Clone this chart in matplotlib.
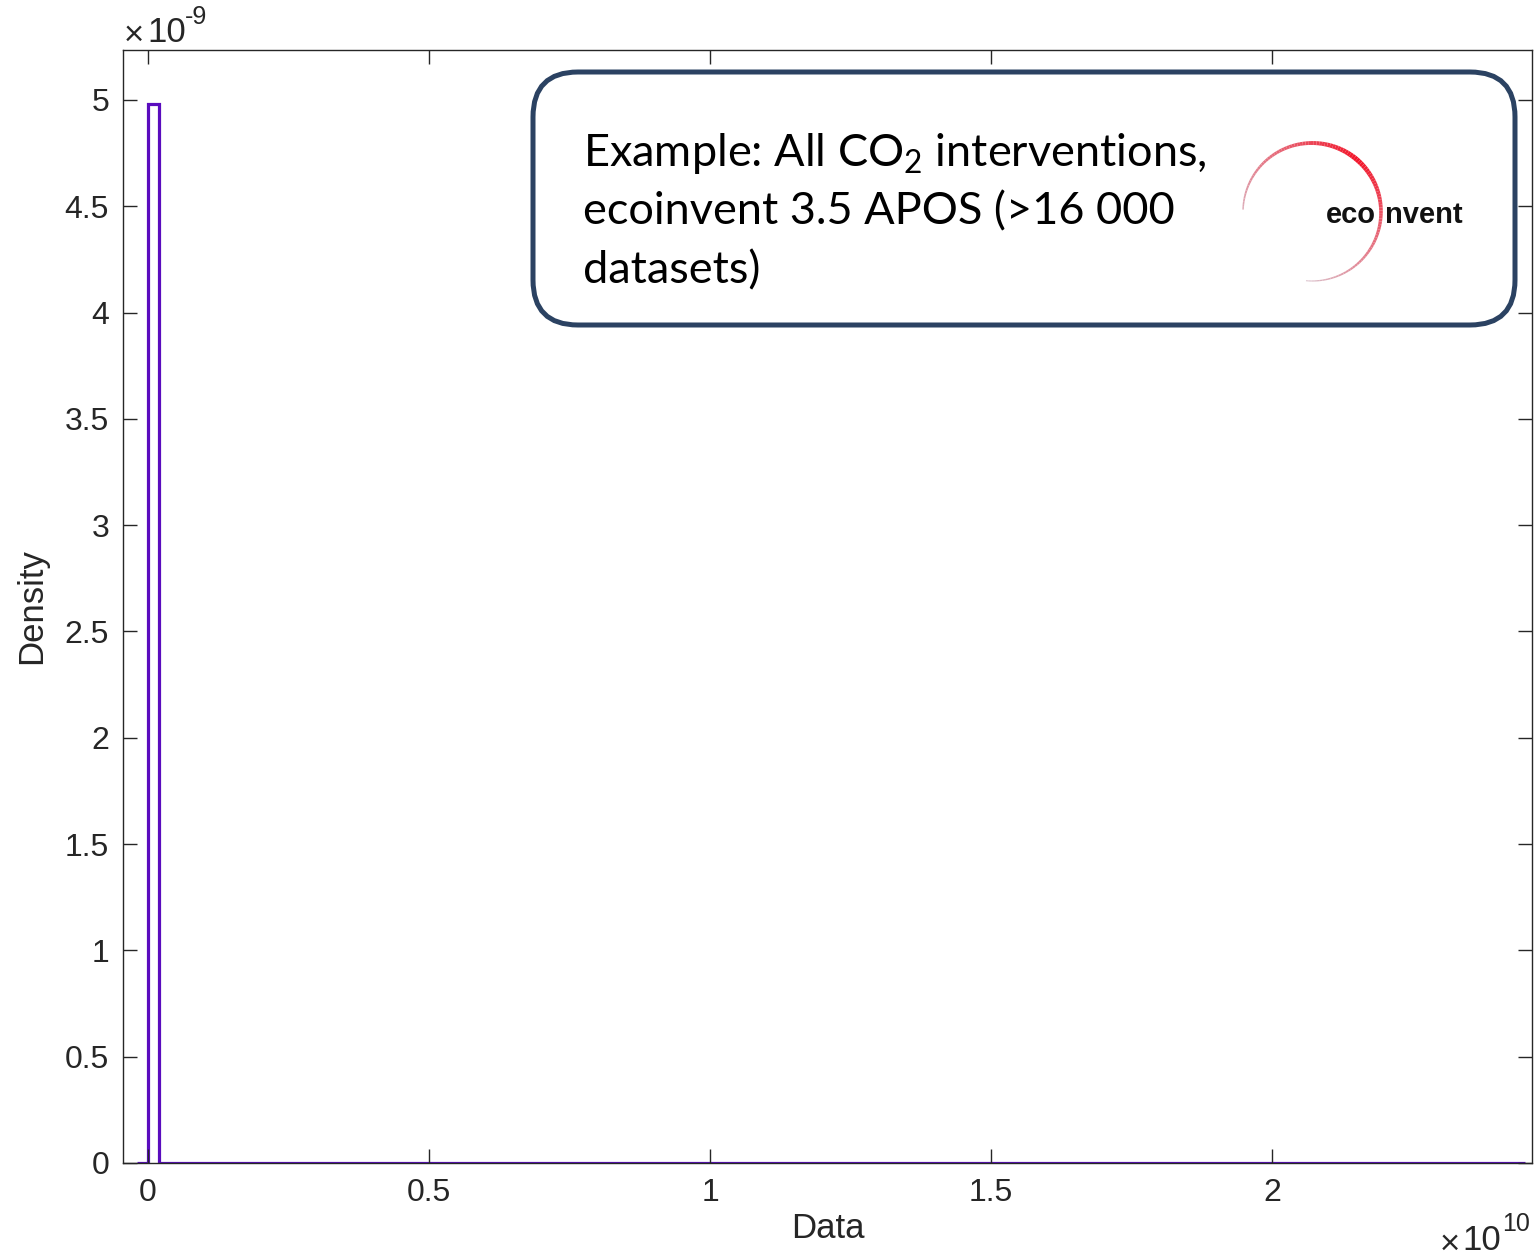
import numpy as np
import matplotlib
matplotlib.use("Agg")
import matplotlib.pyplot as plt
from matplotlib.patches import FancyBboxPatch
from matplotlib.transforms import IdentityTransform
from matplotlib.ticker import FixedLocator

# ---------------- data ----------------
bin_start = -1.96e8          # first histogram edge
bin_width = 1.96e8           # histogram bin width
n_bins = 126
# densities: one tall bin, everything else ~0
density_first = [0.0, 4.98e-9]
density_rest_value = 2e-13   # visually indistinguishable from zero
x_ticks = [0, 0.5e10, 1.0e10, 1.5e10, 2.0e10]
x_tick_labels = ["0", "0.5", "1", "1.5", "2"]
y_ticks = [0, 0.5e-9, 1e-9, 1.5e-9, 2e-9, 2.5e-9, 3e-9, 3.5e-9, 4e-9, 4.5e-9, 5e-9]
y_tick_labels = ["0", "0.5", "1", "1.5", "2", "2.5", "3", "3.5", "4", "4.5", "5"]
x_label = "Data"
y_label = "Density"
note_lines = ["Example: All CO$_\\mathrm{2}$ interventions,",
              "ecoinvent 3.5 APOS (>16 000",
              "datasets)"]

edges = bin_start + bin_width * np.arange(n_bins + 1)
densities = np.array(density_first + [density_rest_value] * (n_bins - len(density_first)))

# ---------------- figure ----------------
W, H = 1537, 1257
fig = plt.figure(figsize=(W / 100, H / 100), dpi=100)
plt.rcParams['mathtext.fontset'] = 'custom'
plt.rcParams['mathtext.rm'] = 'Lato'

ax = fig.add_axes([123 / W, (H - 1163) / H, (1532 - 123) / W, (1163 - 50) / H])
ax.stairs(densities, edges, color="#5A0CBE", linewidth=2.3)

ax.set_xlim(-0.0445e10, 2.4626e10)
ax.set_ylim(0, 5.235e-9)

ax.xaxis.set_major_locator(FixedLocator(x_ticks))
ax.yaxis.set_major_locator(FixedLocator(y_ticks))
ax.set_xticklabels(x_tick_labels)
ax.set_yticklabels(y_tick_labels)

axcol = "#262626"
for s in ax.spines.values():
    s.set_color(axcol)
    s.set_linewidth(1.0)
ax.tick_params(direction="in", length=10, width=1.0, colors=axcol,
               top=True, right=True, labelsize=23, pad=10)
for lab in ax.get_xticklabels() + ax.get_yticklabels():
    lab.set_family("Liberation Sans")
ax.tick_params(axis='x', pad=11)

ax.set_xlabel(x_label, fontsize=25, family="Liberation Sans", color=axcol, labelpad=3)
ax.set_ylabel(y_label, fontsize=25, family="Liberation Sans", color=axcol, labelpad=12)

# exponent labels (MATLAB style)
fig.text(123 / W, 1 - 34 / H, r"$\times$", fontsize=25, color=axcol, va="center", ha="left")
fig.text(147 / W, 1 - 32 / H, "10", fontsize=25, family="Liberation Sans", color=axcol, va="center", ha="left")
fig.text(185 / W, 1 - 17 / H, "-9", fontsize=18, family="Liberation Sans", color=axcol, va="center", ha="left")

fig.text(1439 / W, 1 - 1243 / H, r"$\times$", fontsize=25, color=axcol, va="center", ha="left")
fig.text(1462 / W, 1 - 1240 / H, "10", fontsize=25, family="Liberation Sans", color=axcol, va="center", ha="left")
fig.text(1502 / W, 1 - 1224 / H, "10", fontsize=18, family="Liberation Sans", color=axcol, va="center", ha="left")

# ---------------- annotation box ----------------
bx0, by0, bx1, by1 = 533, H - 325, 1515, H - 72
box = FancyBboxPatch((bx0, by0), bx1 - bx0, by1 - by0,
                     boxstyle="round,pad=0,rounding_size=45",
                     transform=IdentityTransform(), facecolor="white",
                     edgecolor="#2B4262", linewidth=3.6, zorder=5)
fig.patches.append(box)

for i, line in enumerate(note_lines):
    fig.text(583 / W, 1 - (153 + 59 * i) / H, line, fontsize=32.5, family="Lato",
             color="black", va="center", ha="left", zorder=6)

# ---------------- logo ----------------
cx, cy, r = 1312, H - 212, 69
angles = np.linspace(178, -95, 120)
for a0, a1 in zip(angles[:-1], angles[1:]):
    am = 0.5 * (a0 + a1)
    t = np.clip(1 - abs(am - 50) / 150, 0, 1)
    col = (0.85 + 0.1 * t, 0.78 - 0.70 * t, 0.82 - 0.66 * t)
    th = np.radians([a0, a1])
    xs = cx + r * np.cos(th)
    ys = cy + r * np.sin(th)
    fig.add_artist(plt.Line2D(xs, ys, transform=IdentityTransform(), color=col,
                              linewidth=0.6 + 3.0 * t, zorder=7, solid_capstyle="butt"))
fig.text(1376 / W, 1 - 215 / H, "eco", fontsize=21, family="Liberation Sans", weight="bold",
         color="#111111", va="center", ha="right", zorder=8)
fig.text(1385 / W, 1 - 215 / H, "nvent", fontsize=21, family="Liberation Sans", weight="bold",
         color="#111111", va="center", ha="left", zorder=8)

fig.savefig("out.png", dpi=100)
